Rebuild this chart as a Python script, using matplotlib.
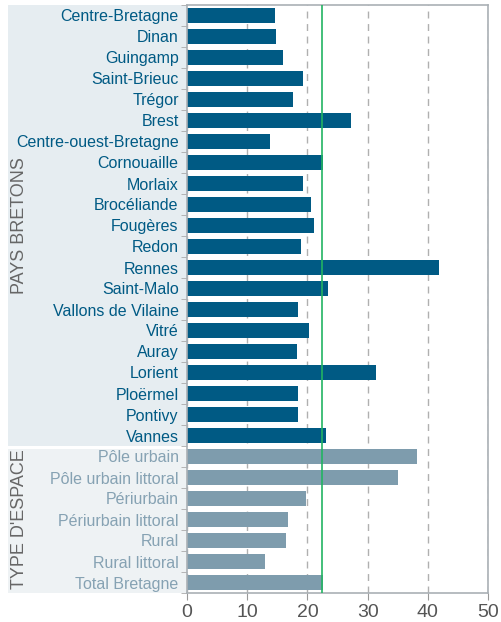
import matplotlib.pyplot as plt
import matplotlib.transforms as mtransforms
from matplotlib.patches import Rectangle
import numpy as np

plt.rcParams.update({'font.family': ['Liberation Sans', 'DejaVu Sans']})

pays = ["Centre-Bretagne", "Dinan", "Guingamp", "Saint-Brieuc", "Trégor",
        "Brest", "Centre-ouest-Bretagne", "Cornouaille", "Morlaix",
        "Brocéliande", "Fougères", "Redon", "Rennes", "Saint-Malo",
        "Vallons de Vilaine", "Vitré", "Auray", "Lorient", "Ploërmel",
        "Pontivy", "Vannes"]
pays_values = [14.6, 14.8, 15.9, 19.3, 17.6, 27.2, 13.8, 22.6, 19.3,
               20.6, 21.1, 18.9, 41.9, 23.4, 18.4, 20.3, 18.3, 31.4,
               18.4, 18.4, 23.1]
espace = ["Pôle urbain", "Pôle urbain littoral", "Périurbain",
          "Périurbain littoral", "Rural", "Rural littoral", "Total Bretagne"]
espace_values = [38.2, 35.0, 19.8, 16.8, 16.4, 12.9, 22.6]
reference_value = 22.5
x_ticks = [0, 10, 20, 30, 40, 50]

dark_blue = '#005a84'
grey_blue = '#7e9cad'
label_grey_blue = '#86a2b3'

fig = plt.figure(figsize=(5.01, 6.22), dpi=100)
ax = fig.add_axes([187/501, 1-593/622, 301/501, 588/622])

labels = pays + espace
values = pays_values + espace_values
colors = [dark_blue]*len(pays) + [grey_blue]*len(espace)
y = np.arange(len(labels))

ax.barh(y, values, height=0.76, color=colors, zorder=2)
ax.axvline(reference_value, color='#22b462', lw=1.2, zorder=3)

ax.set_xlim(0, 50)
ax.set_ylim(len(labels)-0.5, -0.5)
ax.set_xticks(x_ticks)
ax.set_xticklabels([str(t) for t in x_ticks], fontsize=14, color='#555555')
ax.set_yticks(y)
ax.set_yticklabels(labels, fontsize=11.5)
for lab, c in zip(ax.get_yticklabels(), colors):
    lab.set_color(dark_blue if c == dark_blue else label_grey_blue)
ax.tick_params(axis='y', length=0, pad=6)
ax.set_yticks(np.arange(len(labels)+1) - 0.5, minor=True)
ax.tick_params(axis='y', which='minor', length=4, color='#aaaaaa')
ax.tick_params(axis='x', length=5, color='#999999', pad=3)

ax.grid(axis='x', color='#b0b0b0', linestyle=(0, (5, 4)), lw=1, zorder=1)
for s in ax.spines.values():
    s.set_color('#aab0b5')
    s.set_linewidth(1.2)

# shaded label blocks
trans = mtransforms.blended_transform_factory(ax.transAxes, ax.transData)
x0 = (8-187)/301
ax.add_patch(Rectangle((x0, -0.5), -x0, len(pays), transform=trans,
                       facecolor='#e6edf1', edgecolor='none', clip_on=False, zorder=0))
ax.add_patch(Rectangle((x0, len(pays)-0.5+0.15), -x0, len(espace)-0.15, transform=trans,
                       facecolor='#eef2f4', edgecolor='none', clip_on=False, zorder=0))

ax.text((20-187)/301, (len(pays)-1)/2, "PAYS BRETONS", transform=trans,
        rotation=90, ha='center', va='center', fontsize=13, color='#666666')
ax.text((20-187)/301, len(pays)+(len(espace)-1)/2, "TYPE D'ESPACE", transform=trans,
        rotation=90, ha='center', va='center', fontsize=13, color='#666666')

fig.savefig('out.png', dpi=100)
